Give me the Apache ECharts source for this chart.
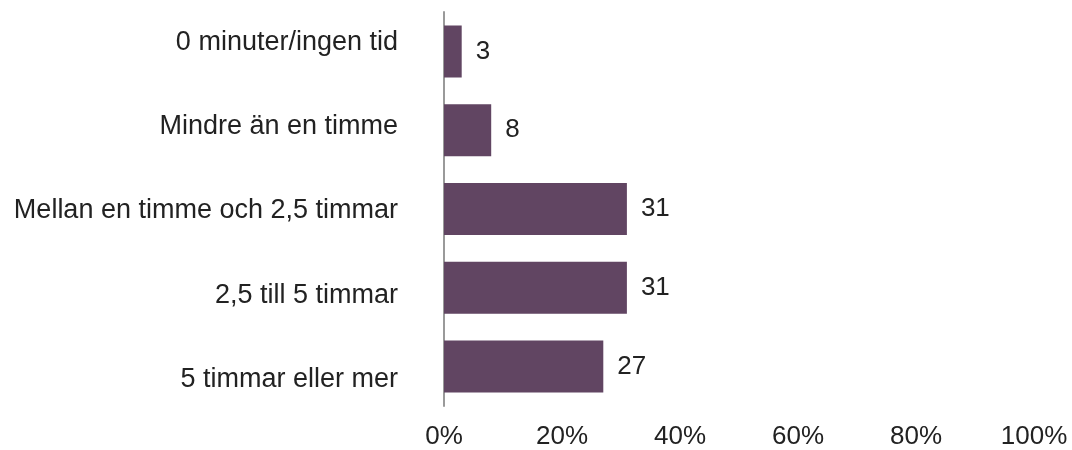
<!DOCTYPE html>
<html>
<head>
<meta charset="utf-8">
<script src="https://cdn.jsdelivr.net/npm/echarts@6/dist/echarts.min.js"></script>
<style>
  html, body { margin: 0; padding: 0; background: #fff; }
  #bar { width: 1072px; height: 450px; }
</style>
</head>
<body>
<div id="bar"></div>
<script>
var barChart = echarts.init(document.getElementById('bar'));

var categories = ["0 minuter/ingen tid", "Mindre än en timme", "Mellan en timme och 2,5 timmar", "2,5 till 5 timmar", "5 timmar eller mer"];
var values = [3, 8, 31, 31, 27];
var xTicks = [0, 20, 40, 60, 80, 100];

var font = "'Liberation Sans', Arial, sans-serif";

// the category labels are spread a little wider than the bars, so they sit on
// their own (invisible) axis in a second grid
var barChartOption = {
    animation: false,
    grid: [
        { left: 444, right: 38, top: 12, bottom: 44 },
        { left: 444, right: 38, top: -4.6, bottom: 28.4 }
    ],
    xAxis: [{
        type: 'value',
        gridIndex: 0,
        min: xTicks[0],
        max: xTicks[xTicks.length - 1],
        interval: 20,
        axisLine: { show: false },
        axisTick: { show: false },
        splitLine: { show: false },
        axisLabel: {
            margin: 18,
            fontSize: 26,
            fontFamily: font,
            color: '#222',
            formatter: '{value}%'
        }
    }, {
        type: 'value',
        gridIndex: 1,
        min: 0,
        max: 100,
        show: false
    }],
    yAxis: [{
        type: 'category',
        gridIndex: 0,
        data: categories,
        inverse: true,
        axisLine: { show: true, lineStyle: { color: '#9a9a9a', width: 2 } },
        axisTick: { show: false },
        axisLabel: { show: false }
    }, {
        type: 'category',
        gridIndex: 1,
        data: categories,
        inverse: true,
        axisLine: { show: false },
        axisTick: { show: false },
        axisLabel: {
            margin: 46,
            fontSize: 27,
            fontFamily: font,
            color: '#222'
        }
    }],
    series: [{
        type: 'bar',
        xAxisIndex: 0,
        yAxisIndex: 0,
        data: values,
        barCategoryGap: '34%',
        itemStyle: { color: '#614562' },
        label: {
            show: true,
            position: 'right',
            distance: 14,
            fontSize: 26,
            fontFamily: font,
            color: '#222'
        }
    }]
};

barChart.setOption(barChartOption);
</script>
</body>
</html>
